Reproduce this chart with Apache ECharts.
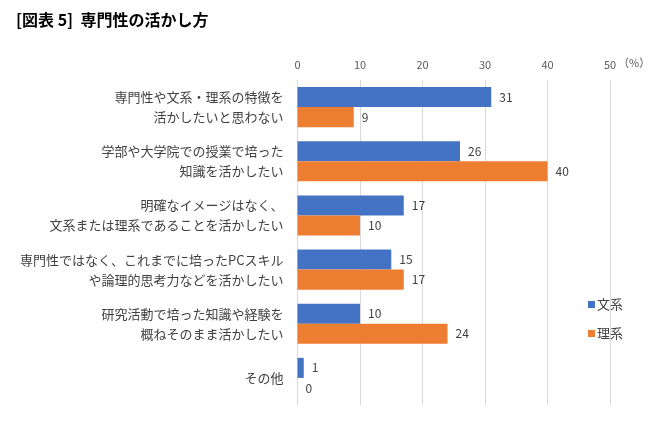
<!DOCTYPE html>
<html><head><meta charset="utf-8">
<script src="https://cdn.jsdelivr.net/npm/echarts@6/dist/echarts.min.js"></script>
<style>html,body{margin:0;padding:0;background:#fff}#c{width:657px;height:422px}</style>
</head><body><div id="c"></div>
<script>
const categories = [
  '専門性や文系・理系の特徴を\n活かしたいと思わない',
  '学部や大学院での授業で培った\n知識を活かしたい',
  '明確なイメージはなく、\n文系または理系であることを活かしたい',
  '専門性ではなく、これまでに培ったPCスキル\nや論理的思考力などを活かしたい',
  '研究活動で培った知識や経験を\n概ねそのまま活かしたい',
  'その他'
];
const bunkei = [31, 26, 17, 15, 10, 1];
const rikei = [9, 40, 10, 17, 24, 0];
const xTicks = [0, 10, 20, 30, 40, 50];
const seriesNames = ['文系', '理系'];
const titleText = '[図表 5]  専門性の活かし方';
const unitText = '（%）';

const font = '"Noto Sans CJK JP", "Noto Sans", sans-serif';
const chart = echarts.init(document.getElementById('c'));
chart.setOption({
  animation: false,
  textStyle: { fontFamily: font },
  title: {
    text: titleText, left: 11, top: 7,
    textStyle: { fontFamily: font, fontSize: 16, fontWeight: 'bold', color: '#000' }
  },
  legend: {
    orient: 'vertical', left: 583, top: 293, itemWidth: 7, itemHeight: 7, itemGap: 16,
    icon: 'rect', data: seriesNames,
    textStyle: { fontFamily: font, fontSize: 13, color: '#404040', padding: [0, 0, 0, -3] }
  },
  grid: { left: 297.5, right: 47, top: 80, bottom: 17 },
  xAxis: {
    type: 'value', position: 'top', min: xTicks[0], max: xTicks[xTicks.length - 1], interval: 10,
    axisLine: { show: false }, axisTick: { show: false },
    splitLine: { lineStyle: { color: '#d9d9d9', width: 1 } },
    axisLabel: { fontFamily: font, fontSize: 11, color: '#595959', margin: 10 }
  },
  yAxis: {
    type: 'category', data: categories, inverse: true,
    axisLine: { show: true, lineStyle: { color: '#d9d9d9' } }, axisTick: { show: false },
    axisLabel: { fontFamily: font, fontSize: 13, color: '#404040', lineHeight: 20, margin: 14, align: 'right' }
  },
  graphic: [{
    type: 'text', left: 618, top: 57,
    style: { text: unitText, font: '11px ' + font, fill: '#595959' }
  }],
  series: [
    {
      name: seriesNames[0], type: 'bar', data: bunkei, barCategoryGap: '26%', barGap: '0%',
      itemStyle: { color: '#4472c4' },
      label: { show: true, position: 'right', distance: 8, fontFamily: font, fontSize: 12, color: '#404040' }
    },
    {
      name: seriesNames[1], type: 'bar', data: rikei, barCategoryGap: '26%', barGap: '0%',
      itemStyle: { color: '#ed7d31' },
      label: { show: true, position: 'right', distance: 8, fontFamily: font, fontSize: 12, color: '#404040' }
    }
  ]
});
</script></body></html>
